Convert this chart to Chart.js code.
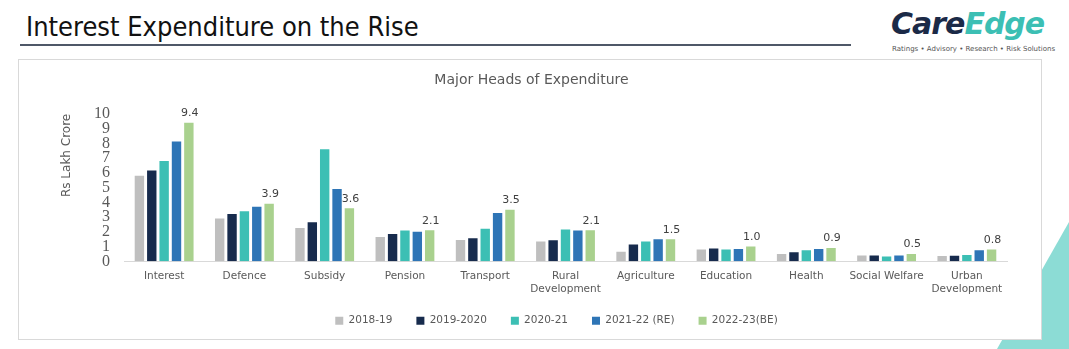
<!DOCTYPE html>
<html>
<head>
<meta charset="utf-8">
<script src="https://cdn.jsdelivr.net/npm/chart.js@4.4.0/dist/chart.umd.min.js"></script>
<style>
  html, body { margin: 0; padding: 0; background: #fff; }
  body { width: 1069px; height: 349px; position: relative; overflow: hidden; font-family: "DejaVu Sans", sans-serif; }
  #tri { position: absolute; left: 0; top: 0; }
  #pageTitle { position: absolute; left: 26px; top: 11px; font-family: "DejaVu Sans Condensed", "DejaVu Sans", sans-serif; font-size: 27px; color: #111; white-space: nowrap; }
  #rule { position: absolute; left: 20px; top: 44px; width: 831px; height: 2px; background: #4f5868; }
  #logo { position: absolute; left: 891px; top: 6px; font-family: "DejaVu Sans", sans-serif; font-weight: bold; font-style: italic; font-size: 30px; letter-spacing: -1px; white-space: nowrap; }
  #logo .care { color: #1b2a47; }
  #logo .edge { color: #3cbfb4; }
  #tag { position: absolute; left: 892px; top: 45px; font-size: 7px; color: #555; white-space: nowrap; }
  #box { position: absolute; left: 18px; top: 59px; width: 1022px; height: 279px; border: 1px solid #d9d9d9; background: #fff; }
  #chart { display: block; }
</style>
</head>
<body>
<svg id="tri" width="1069" height="349"><polygon points="1069,222 997,349 1069,349" fill="#8cdcd5"/></svg>
<div id="pageTitle">Interest Expenditure on the Rise</div>
<div id="rule"></div>
<div id="logo"><span class="care">Care</span><span class="edge">Edge</span></div>
<div id="tag">Ratings &bull; Advisory &bull; Research &bull; Risk Solutions</div>
<div id="box"><canvas id="chart" width="1022" height="279"></canvas></div>

<script>
// categories and values (Rs lakh crore)
const categories = ['Interest', 'Defence', 'Subsidy', 'Pension', 'Transport', ['Rural', 'Development'],
    'Agriculture', 'Education', 'Health', 'Social Welfare', ['Urban', 'Development']];
const seriesNames = ['2018-19', '2019-2020', '2020-21', '2021-22 (RE)', '2022-23(BE)'];
const fy2018 = [5.8, 2.9, 2.25, 1.65, 1.45, 1.35, 0.65, 0.8, 0.5, 0.4, 0.36];
const fy2019 = [6.15, 3.2, 2.65, 1.85, 1.57, 1.43, 1.14, 0.87, 0.62, 0.4, 0.37];
const fy2020 = [6.8, 3.4, 7.6, 2.08, 2.2, 2.16, 1.34, 0.8, 0.75, 0.32, 0.43];
const fy2021 = [8.13, 3.7, 4.9, 2.0, 3.27, 2.09, 1.5, 0.84, 0.83, 0.4, 0.75];
const fy2022 = [9.4, 3.9, 3.6, 2.1, 3.5, 2.1, 1.5, 1.0, 0.9, 0.5, 0.8];
const yTicks = [0, 1, 2, 3, 4, 5, 6, 7, 8, 9, 10];

const colors = ['#bfbfbf', '#172b4d', '#3cbfb4', '#2e75b6', '#a9d18e'];
const allSeries = [fy2018, fy2019, fy2020, fy2021, fy2022];

// labels over the last series only
const lastLabels = {
    id: 'lastLabels',
    afterDatasetsDraw(chart) {
        const ctx = chart.ctx;
        const meta = chart.getDatasetMeta(4);
        ctx.save();
        ctx.font = '11px "DejaVu Sans"';
        ctx.fillStyle = '#404040';
        ctx.textAlign = 'center';
        ctx.textBaseline = 'bottom';
        meta.data.forEach((bar, i) => {
            ctx.fillText(fy2022[i].toFixed(1), bar.x + 1, bar.y - 4);
        });
        ctx.restore();
    }
};

// nudge the legend to where it sits in the original
const legendShift = {
    id: 'legendShift',
    afterLayout(chart) {
        const lg = chart.legend;
        lg.left += 25; lg.right += 25;
        lg.top -= 13; lg.bottom -= 13;
    }
};

new Chart(document.getElementById('chart'), {
    type: 'bar',
    data: {
        labels: categories,
        datasets: allSeries.map((d, i) => ({
            label: seriesNames[i],
            data: d,
            backgroundColor: colors[i],
            categoryPercentage: 0.77,
            barPercentage: 0.76
        }))
    },
    options: {
        responsive: false,
        animation: false,
        layout: { padding: { left: 37, right: 34, top: 0, bottom: -10 } },
        plugins: {
            title: {
                display: true,
                text: 'Major Heads of Expenditure',
                color: '#595959',
                font: { family: 'DejaVu Sans', size: 14, weight: 'normal' },
                padding: { top: 12, bottom: 25 }
            },
            legend: {
                position: 'bottom',
                labels: {
                    boxWidth: 8,
                    boxHeight: 8,
                    padding: 24,
                    color: '#595959',
                    font: { family: 'DejaVu Sans', size: 10.5 }
                }
            },
            tooltip: { enabled: false }
        },
        scales: {
            x: {
                grid: { display: false, drawTicks: false },
                border: { display: true, color: '#d9d9d9', width: 1 },
                ticks: {
                    color: '#595959',
                    font: { family: 'DejaVu Sans', size: 10.5 },
                    padding: 9,
                    maxRotation: 0,
                    autoSkip: false
                }
            },
            y: {
                min: 0,
                max: 10,
                afterBuildTicks(scale) { scale.ticks = yTicks.map(v => ({ value: v })); },
                grid: { display: false, drawTicks: false },
                border: { display: false },
                ticks: {
                    color: '#595959',
                    font: { family: 'Liberation Serif', size: 16 },
                    padding: 14,
                    autoSkip: false
                },
                title: {
                    display: true,
                    text: 'Rs Lakh Crore',
                    align: 'end',
                    color: '#595959',
                    font: { family: 'DejaVu Sans', size: 12 },
                    padding: 4
                },
                afterFit(scale) { scale.width = 68; }
            }
        }
    },
    plugins: [lastLabels, legendShift]
});
</script>
</body>
</html>
